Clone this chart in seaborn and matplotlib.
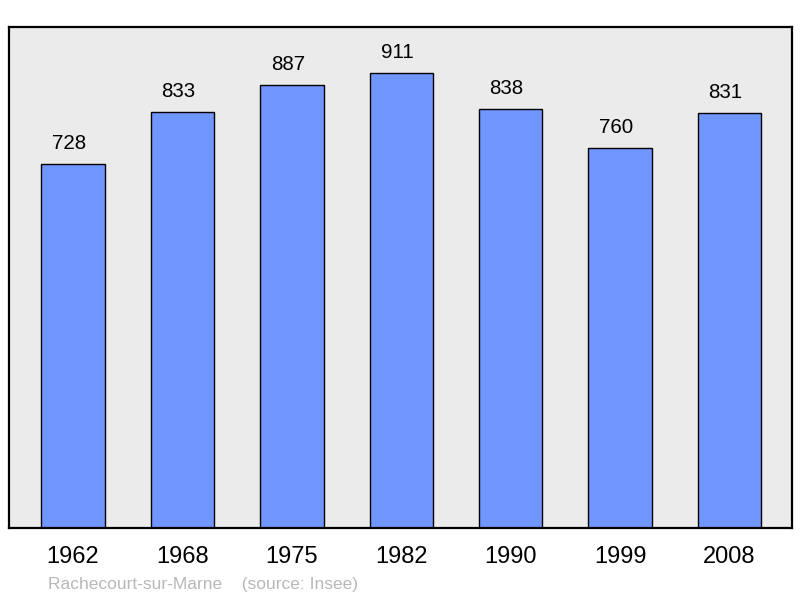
import matplotlib
matplotlib.use("Agg")
import matplotlib.pyplot as plt
import seaborn as sns
import pandas as pd

years = ["1962", "1968", "1975", "1982", "1990", "1999", "2008"]
population = [728, 833, 887, 911, 838, 760, 831]
footer = "Rachecourt-sur-Marne    (source: Insee)"

sns.set_style("white")
plt.rcParams['font.family'] = ['Liberation Sans', 'DejaVu Sans']

df = pd.DataFrame({"year": years, "pop": population})

fig = plt.figure(figsize=(8, 5.98), dpi=100)
ax = fig.add_axes([9/800, 70/598, 783/800, 501/598])
ax.set_facecolor("#ebebeb")

sns.barplot(data=df, x="year", y="pop", color="#7096ff", saturation=1,
            edgecolor="black", linewidth=1.0, width=0.58, ax=ax)

for patch, v in zip(ax.patches, population):
    cx = patch.get_x() + patch.get_width() / 2
    ax.annotate(str(v), xy=(cx, patch.get_height()), xytext=(-3, 8),
                textcoords="offset points", ha="center", va="bottom",
                fontsize=14.8, color="black")

ax.set_xlim(-0.585, 6.57)
ax.set_ylim(0, 1003)
ax.set_xlabel("")
ax.set_ylabel("")
ax.set_yticks([])
ax.tick_params(axis="x", length=0, pad=13, labelsize=17, colors="black")
for s in ax.spines.values():
    s.set_visible(True)
    s.set_color("black")
    s.set_linewidth(1.6)

fig.text(48/800, 1 - 584/598, footer, fontsize=12.5, color="#b8b8b8", va="center", ha="left")

fig.savefig("out.png", dpi=100)
